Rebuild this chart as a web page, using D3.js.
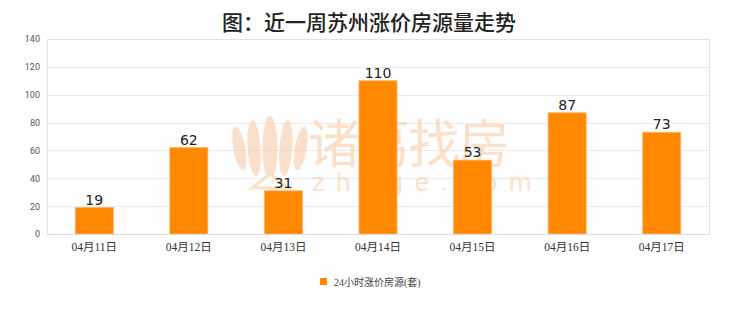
<!DOCTYPE html>
<html><head><meta charset="utf-8">
<script src="https://cdn.jsdelivr.net/npm/d3@7"></script>
<style>html,body{margin:0;padding:0;background:#fff;}svg{display:block;}</style>
</head><body>
<svg id="c" width="740" height="312"></svg>
<script>
const title = "图：近一周苏州涨价房源量走势";
const categories = ["04月11日","04月12日","04月13日","04月14日","04月15日","04月16日","04月17日"];
const values = [19, 62, 31, 110, 53, 87, 73];
const yTicks = [0,20,40,60,80,100,120,140];
const seriesName = "24小时涨价房源(套)";

const svg = d3.select("#c");
const W = 740, H = 312;
const m = {l:47, r:31, t:39, b:78};
const pw = W - m.l - m.r, ph = H - m.t - m.b;

svg.append("rect").attr("width",W).attr("height",H).attr("fill","#fefefe");

svg.append("text").attr("x",369).attr("y",30).attr("text-anchor","middle")
  .attr("font-family","'Noto Sans CJK SC',sans-serif").attr("font-weight",500)
  .attr("font-size",21).attr("fill","#222").text(title);

const x = d3.scaleBand().domain(categories).range([m.l, m.l+pw]).paddingInner(0).paddingOuter(0);
const y = d3.scaleLinear().domain([0,140]).range([m.t+ph, m.t]);

const g = svg.append("g");
g.append("rect").attr("x",m.l+0.5).attr("y",m.t+0.5).attr("width",pw).attr("height",ph)
  .attr("fill","none").attr("stroke","#e2e2e2");

g.selectAll(".grid").data(yTicks.filter(d=>d>0 && d<140)).join("line")
  .attr("x1",m.l).attr("x2",m.l+pw)
  .attr("y1",d=>Math.round(y(d))+0.5).attr("y2",d=>Math.round(y(d))+0.5)
  .attr("stroke","#ebebeb");

const ya = svg.append("g").attr("transform",`translate(${m.l},0)`)
  .call(d3.axisLeft(y).tickValues(yTicks).tickSize(0).tickPadding(7));
ya.select(".domain").remove();
ya.selectAll("text").attr("font-family","Roboto,'Liberation Sans',sans-serif")
  .attr("font-size",9).attr("fill","#555");

// watermark
const wm = svg.append("g").attr("opacity",0.55);
const peach = "#f7c9a0";
const petals = [[-26,-20,6,22],[-14,-8,6.5,28],[0,0,7.5,32],[14,8,6.5,28],[26,20,6,22]];
petals.forEach(p=>{
  wm.append("ellipse").attr("cx",270+p[0]).attr("cy",148).attr("rx",p[2]).attr("ry",p[3])
    .attr("transform",`rotate(${p[1]*0.5},${270+p[0]},${175})`).attr("fill",peach);
});
wm.append("path").attr("d","M252,188 L270,174 L288,188 Z").attr("fill","#fff").attr("stroke",peach).attr("stroke-width",3);
wm.append("text").attr("x",308).attr("y",163).attr("font-family","'Noto Sans CJK SC',sans-serif")
  .attr("font-size",52).attr("fill",peach).attr("letter-spacing",-2).text("诸葛找房");
wm.append("text").attr("x",312).attr("y",191).attr("font-family","'DejaVu Sans',sans-serif")
  .attr("font-size",24).attr("fill",peach).attr("letter-spacing",11).text("zhuge.com");

const bw = 38;
svg.selectAll(".bar").data(values).join("rect")
  .attr("x",(d,i)=>x(categories[i])+x.bandwidth()/2-bw/2)
  .attr("y",d=>y(d)).attr("width",bw).attr("height",d=>y(0)-y(d))
  .attr("fill","#ff8800").attr("stroke","#ffb060").attr("stroke-width",0.8);

svg.append("line").attr("x1",m.l).attr("x2",m.l+pw).attr("y1",y(0)+0.5).attr("y2",y(0)+0.5).attr("stroke","#ddd");

svg.selectAll(".vl").data(values).join("text")
  .attr("x",(d,i)=>x(categories[i])+x.bandwidth()/2).attr("y",d=>y(d)-3)
  .attr("text-anchor","middle").attr("font-family","'DejaVu Sans',sans-serif")
  .attr("font-size",14).attr("fill","#222").text(d=>d);

const xa = svg.append("g").attr("transform",`translate(0,${y(0)})`)
  .call(d3.axisBottom(x).tickSize(0).tickPadding(9));
xa.select(".domain").remove();
xa.selectAll("text").attr("font-family","'Liberation Serif','Noto Sans CJK SC',serif")
  .attr("font-size",11.5).attr("fill","#333");

svg.append("rect").attr("x",320).attr("y",278).attr("width",7).attr("height",7).attr("fill","#ff8800");
svg.append("text").attr("x",334).attr("y",286).attr("font-family","'Liberation Serif','Noto Sans CJK SC',serif")
  .attr("font-size",10).attr("fill","#444").text(seriesName);
</script>
</body></html>
